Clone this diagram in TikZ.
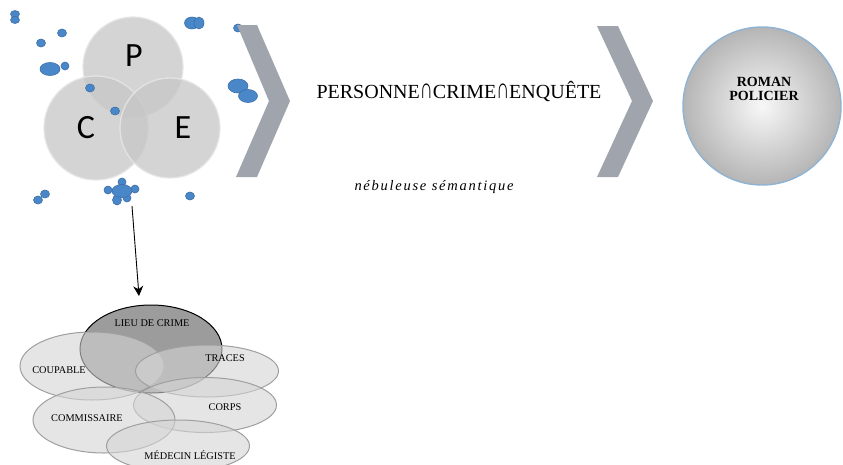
\documentclass[tikz,border=0pt]{standalone}
\usepackage{fontspec}
\setmainfont{Liberation Serif}
\newfontfamily\letterfont{Carlito}
\usetikzlibrary{shapes.geometric,arrows.meta,shadings}
\definecolor{chev}{HTML}{A0A5AD}
\definecolor{dotfill}{HTML}{4A87C8}
\definecolor{dotdraw}{HTML}{3B6FA8}
\definecolor{rimblue}{HTML}{8FB3D3}
\definecolor{bubble}{HTML}{C6C6C6}
\definecolor{ellfill}{HTML}{D4D4D4}
\definecolor{lieufill}{HTML}{9C9C9C}
\newcommand{\intsym}{\scalebox{0.9}[1.45]{∩}}
\tikzset{
  bubblecirc/.style={circle, inner sep=0pt, fill=bubble, fill opacity=0.75, draw=white!80!gray, line width=1.3pt, draw opacity=0.9},
  bigletter/.style={font=\letterfont\fontsize{34}{34}\selectfont, text=black, inner sep=0pt},
  bluedot/.style={ellipse, inner sep=0pt, fill=dotfill, draw=dotdraw, line width=0.6pt},
  chevron/.style={fill=chev, draw=none},
  setell/.style={ellipse, inner sep=0pt, fill=ellfill, fill opacity=0.6, draw=gray!75, line width=1pt},
  setlabel/.style={font=\fontsize{10.3}{10.3}\selectfont, text=black, inner sep=0pt},
}
\begin{document}
\begin{tikzpicture}[x=1pt,y=-1pt]
\useasboundingbox (0,0) rectangle (843,464);
\clip (0,0) rectangle (843,464);

% three bubbles
\node[bubblecirc, minimum size=100pt] (P) at (133,67) {};
\node[bubblecirc, minimum size=104pt] (C) at (96,128) {};
\node[bubblecirc, minimum size=100pt] (E) at (170,128) {};
\node[bigletter] (Pl) at (134,56) {P};
\node[bigletter] (Cl) at (86,128) {C};
\node[bigletter] (El) at (183,128) {E};

% blue dots
\node[bluedot, minimum width=9pt, minimum height=7pt] (d1) at (15,14) {};
\node[bluedot, minimum width=9pt, minimum height=7pt] (d2) at (15,20) {};
\node[bluedot, minimum width=9pt, minimum height=8pt] (d3) at (62,33) {};
\node[bluedot, minimum width=9pt, minimum height=8pt] (d4) at (41,43) {};
\node[bluedot, minimum width=20pt, minimum height=13pt] (d5) at (50,69) {};
\node[bluedot, minimum width=8pt, minimum height=8pt] (d6) at (65,66) {};
\node[bluedot, minimum width=15pt, minimum height=12pt] (d7) at (192,23) {};
\node[bluedot, minimum width=10pt, minimum height=12pt] (d8) at (199,23) {};
\node[bluedot, minimum width=9pt, minimum height=8pt] (d9) at (238,28) {};
\node[bluedot, minimum width=20pt, minimum height=14pt] (d10) at (238,86) {};
\node[bluedot, minimum width=19pt, minimum height=13pt] (d11) at (248,96) {};
\node[bluedot, minimum width=9pt, minimum height=8pt] (d12) at (90,88) {};
\node[bluedot, minimum width=9pt, minimum height=8pt] (d13) at (115,111) {};
\node[bluedot, minimum width=9pt, minimum height=8pt] (d14) at (38,200) {};
\node[bluedot, minimum width=9pt, minimum height=8pt] (d15) at (45,194) {};
\node[bluedot, minimum width=9pt, minimum height=8pt] (d16) at (190,196) {};
% cluster
\node[bluedot, minimum width=8pt, minimum height=8pt] (c1) at (108,190) {};
\node[bluedot, minimum width=8pt, minimum height=8pt] (c2) at (122,182) {};
\node[bluedot, minimum width=8pt, minimum height=8pt] (c3) at (135,189) {};
\node[bluedot, minimum width=9pt, minimum height=10pt] (c4) at (117,200) {};
\node[bluedot, minimum width=8pt, minimum height=8pt] (c5) at (127,198) {};
\node[bluedot, minimum width=20pt, minimum height=13pt] (cl) at (122,191) {};

% chevrons
\path[chevron] (237,25) -- (257,25) -- (290,101) -- (257,177) -- (236,177) -- (269,101) -- cycle;
\path[chevron] (597,26) -- (618,26) -- (653,101) -- (618,177) -- (597,177) -- (632,101) -- cycle;

% texts
\node[font=\fontsize{20}{20}\selectfont, inner sep=0pt] (formula) at (459,92) {PERSONNE\intsym CRIME\intsym ENQUÊTE};
\node[font=\itshape\fontsize{14.5}{14.5}\selectfont\addfontfeatures{LetterSpace=12}, inner sep=0pt] (nebu) at (434,187) {nébuleuse sémantique};

% roman policier
\node[circle, minimum size=158pt, inner sep=0pt, draw=rimblue, line width=1.4pt,
      inner color=white!94!gray, outer color=gray!58] (roman) at (762,106) {};
\node[font=\bfseries\fontsize{14}{14.5}\selectfont, align=center, inner sep=0pt] (romanlbl) at (764,89) {ROMAN\\POLICIER};

% lower sets
\node[ellipse, inner sep=0pt, minimum width=142pt, minimum height=88pt, fill=lieufill, draw=black, line width=1pt] (lieu) at (151,349) {};
\node[setell, minimum width=144pt, minimum height=68pt] (coup) at (92,366) {};
\node[setell, minimum width=143pt, minimum height=52pt] (traces) at (207,371) {};
\node[setell, minimum width=143pt, minimum height=55pt] (corps) at (205,405) {};
\node[setell, minimum width=142pt, minimum height=66pt] (comm) at (104,420) {};
\node[setell, minimum width=143pt, minimum height=52pt] (med) at (178,446) {};

\node[setlabel] (lieul) at (152,323) {LIEU DE CRIME};
\node[setlabel] (coupl) at (59,370) {COUPABLE};
\node[setlabel] (tracesl) at (225,358) {TRACES};
\node[setlabel] (corpsl) at (225,407) {CORPS};
\node[setlabel] (comml) at (87,418) {COMMISSAIRE};
\node[setlabel] (medl) at (190,455) {MÉDECIN LÉGISTE};

% arrow from the cluster to the lower sets
\coordinate (a0) at (132,206);
\coordinate (tip) at (139,296);
\draw[line width=0.9pt, -{Stealth[length=10pt,width=10pt]}] (a0) -- (tip);
\end{tikzpicture}
\end{document}
